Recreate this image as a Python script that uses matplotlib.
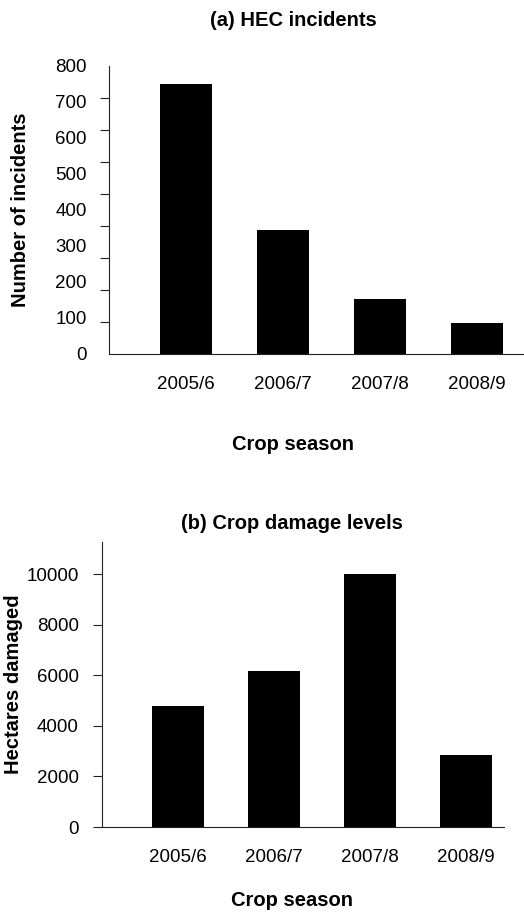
import numpy as np
import matplotlib
matplotlib.use('Agg')
import matplotlib.pyplot as plt

plt.rcParams['font.family'] = ['Liberation Sans', 'DejaVu Sans']

seasons = ['2005/6', '2006/7', '2007/8', '2008/9']
incidents = [750, 344, 153, 86]
hectares = [4800, 6150, 10000, 2850]

incident_ticks = [0, 100, 200, 300, 400, 500, 600, 700, 800]
hectare_ticks = [0, 2000, 4000, 6000, 8000, 10000]

W, H = 524, 913


def px_box(left, right, top, bottom):
    # pixel box -> figure fraction [left, bottom, width, height]
    return [left / W, 1 - bottom / H, (right - left) / W, (bottom - top) / H]


def style_axis(ax):
    for side in ['top', 'right']:
        ax.spines[side].set_visible(False)
    for side in ['left', 'bottom']:
        ax.spines[side].set_linewidth(0.8)
        ax.spines[side].set_color('#222222')
    ax.tick_params(axis='x', length=0, pad=16, labelsize=13.5)
    ax.tick_params(axis='y', labelsize=13.5, color='#222222', width=0.8)


fig = plt.figure(figsize=(W / 100, H / 100), dpi=100)

# (a) HEC incidents
ax1 = fig.add_axes(px_box(109, 524, 66, 354))
x = np.arange(len(seasons))
ax1.bar(x, incidents, width=0.54, color='black')
ax1.set_xlim(-0.794, 3.485)
ax1.set_ylim(0, 800)
ax1.set_xticks(x)
ax1.set_xticklabels(seasons)
ax1.set_yticks(incident_ticks)
ax1.set_yticks(np.linspace(0, 800, 10), minor=True)
style_axis(ax1)
ax1.tick_params(axis='y', which='major', length=0, pad=16)
ax1.tick_params(axis='y', which='minor', length=6.5, width=0.8,
                color='#222222')

fig.text(293 / W, 1 - 20 / H, '(a) HEC incidents', ha='center', va='center',
         fontsize=14.5, fontweight='bold')
fig.text(21 / W, 1 - 210 / H, 'Number of incidents', rotation=90,
         ha='center', va='center', fontsize=14.5, fontweight='bold')
fig.text(293 / W, 1 - 444 / H, 'Crop season', ha='center', va='center',
         fontsize=14.5, fontweight='bold')

# (b) Crop damage levels
ax2 = fig.add_axes(px_box(101.7, 504, 541.7, 827))
ax2.bar(x, hectares, width=0.54, color='black')
ax2.set_xlim(-0.795, 3.4)
ax2.set_ylim(0, 11280)
ax2.set_xticks(x)
ax2.set_xticklabels(seasons)
ax2.set_yticks(hectare_ticks)
style_axis(ax2)
ax2.tick_params(axis='y', length=6.5, pad=10)

fig.text(292 / W, 1 - 523 / H, '(b) Crop damage levels', ha='center',
         va='center', fontsize=14.5, fontweight='bold')
fig.text(13.5 / W, 1 - 684 / H, 'Hectares damaged', rotation=90,
         ha='center', va='center', fontsize=14.5, fontweight='bold')
fig.text(292 / W, 1 - 900 / H, 'Crop season', ha='center', va='center',
         fontsize=14.5, fontweight='bold')

plt.savefig('out.png', dpi=100)
